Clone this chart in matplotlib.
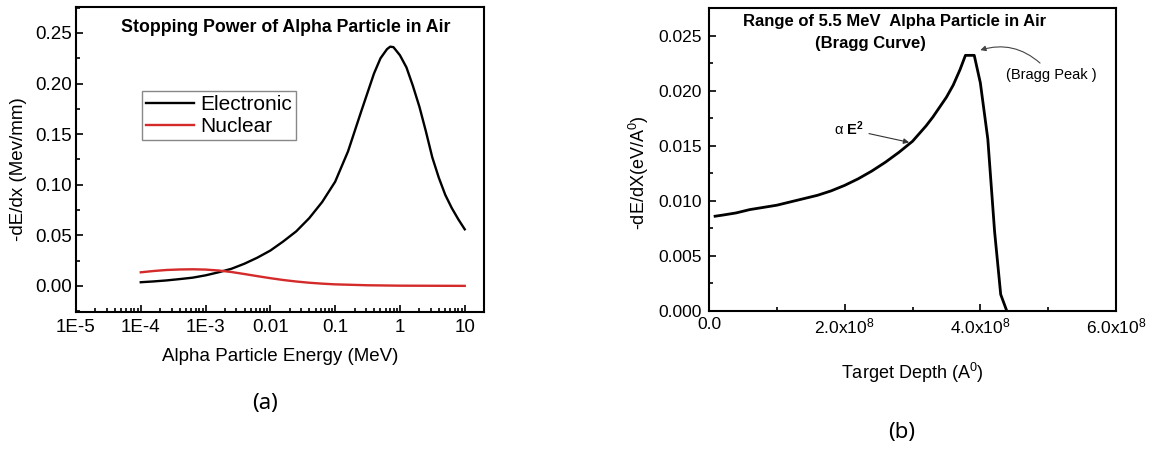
import matplotlib
matplotlib.use("Agg")
import matplotlib.pyplot as plt
from matplotlib.ticker import MultipleLocator, LogLocator, NullFormatter

plt.rcParams['font.family'] = 'Liberation Sans'
plt.rcParams['mathtext.fontset'] = 'custom'
plt.rcParams['mathtext.rm'] = 'Liberation Sans'
plt.rcParams['mathtext.it'] = 'Liberation Sans:italic'
plt.rcParams['mathtext.bf'] = 'Liberation Sans:bold'

# (a) stopping power vs energy (MeV)
energie_el = [1e-4, 1.58e-4, 2.51e-4, 3.98e-4, 6.31e-4, 1e-3, 1.58e-3, 2.51e-3,
              3.98e-3, 6.31e-3, 0.01, 0.0158, 0.0251, 0.0398, 0.0631, 0.1, 0.158,
              0.251, 0.398, 0.501, 0.631, 0.708, 0.794, 1.0, 1.26, 1.58, 2.0, 2.51,
              3.16, 3.98, 5.01, 6.31, 7.94, 10]
dedx_el = [0.0037, 0.0045, 0.0055, 0.0068, 0.0082, 0.0105, 0.0135, 0.017, 0.022,
           0.028, 0.035, 0.044, 0.054, 0.067, 0.083, 0.103, 0.133, 0.172, 0.210,
           0.225, 0.234, 0.2365, 0.236, 0.228, 0.216, 0.198, 0.177, 0.153, 0.127,
           0.107, 0.090, 0.077, 0.066, 0.056]

energie_nu = [1e-4, 1.58e-4, 2.51e-4, 3.98e-4, 6.31e-4, 1e-3, 1.58e-3, 2.51e-3,
              3.98e-3, 6.31e-3, 0.01, 0.0158, 0.0251, 0.0398, 0.0631, 0.1, 0.316,
              1, 3.16, 10]
dedx_nu = [0.0135, 0.0148, 0.0158, 0.0163, 0.0165, 0.0162, 0.0153, 0.0138, 0.0118,
           0.0097, 0.0077, 0.0059, 0.0044, 0.0032, 0.0023, 0.0016, 0.0007, 0.0003,
           0.0002, 0.0001]

xticks_a = [1e-5, 1e-4, 1e-3, 0.01, 0.1, 1, 10]
xlabels_a = ["1E-5", "1E-4", "1E-3", "0.01", "0.1", "1", "10"]

# (b) courbe de Bragg, profondeur en A
profondeur = [0.09e8, 0.2e8, 0.4e8, 0.6e8, 0.8e8, 1.0e8, 1.2e8, 1.4e8, 1.6e8, 1.8e8,
              2.0e8, 2.2e8, 2.4e8, 2.6e8, 2.8e8, 3.0e8, 3.1e8, 3.2e8, 3.3e8, 3.4e8,
              3.5e8, 3.6e8, 3.7e8, 3.78e8, 3.91e8, 4.0e8, 4.11e8, 4.21e8, 4.30e8,
              4.39e8]
dedx_b = [0.0086, 0.0087, 0.0089, 0.0092, 0.0094, 0.0096, 0.0099, 0.0102, 0.0105,
          0.0109, 0.0114, 0.0120, 0.0127, 0.0135, 0.0144, 0.0154, 0.0161, 0.0168,
          0.0176, 0.0185, 0.0194, 0.0205, 0.0219, 0.0232, 0.0232, 0.0207, 0.0156,
          0.0072, 0.0015, 0.0]

xticks_b = [0, 2e8, 4e8, 6e8]
xlabels_b = ["0.0", r"2.0x10$^8$", r"4.0x10$^8$", r"6.0x10$^8$"]

fig = plt.figure(figsize=(11.6, 4.53), dpi=100)

#graphique (a)
ax1 = fig.add_axes([0.0655, 0.3113, 0.3517, 0.6733])
ax1.plot(energie_el, dedx_el, color='black', lw=1.7, label="Electronic")
ax1.plot(energie_nu, dedx_nu, color='#d42a2a', lw=1.7, label="Nuclear")
ax1.set_xscale('log')
ax1.set_xlim(1e-5, 19.8)
ax1.set_ylim(-0.0257, 0.2757)
ax1.set_xticks(xticks_a)
ax1.set_xticklabels(xlabels_a)
ax1.xaxis.set_minor_locator(LogLocator(base=10, subs=range(2, 10), numticks=20))
ax1.xaxis.set_minor_formatter(NullFormatter())
ax1.yaxis.set_major_locator(MultipleLocator(0.05))
ax1.yaxis.set_minor_locator(MultipleLocator(0.025))
ax1.yaxis.set_major_formatter(plt.FormatStrFormatter('%.2f'))
ax1.tick_params(which='both', direction='in', labelsize=13.5, width=1.2)
ax1.tick_params(which='major', length=5)
ax1.tick_params(which='minor', length=3)
ax1.tick_params(axis='x', pad=5)
ax1.tick_params(axis='y', pad=3)
for s in ax1.spines.values():
    s.set_linewidth(1.5)
ax1.set_xlabel("Alpha Particle Energy (MeV)", fontsize=13.5)
ax1.xaxis.set_label_coords(0.5, -0.118)
ax1.set_ylabel("-dE/dx (Mev/mm)", fontsize=13.5)
ax1.yaxis.set_label_coords(-0.12, 0.47)
ax1.text(0.515, 0.934, "Stopping Power of Alpha Particle in Air", transform=ax1.transAxes,
         ha='center', va='center', fontsize=12.8, fontweight='bold')
leg = ax1.legend(loc='upper left', bbox_to_anchor=(0.162, 0.725), borderaxespad=0,
                 fontsize=15, fancybox=False, handlelength=2.3, handletextpad=0.3,
                 borderpad=0.2, labelspacing=0.15, framealpha=1)
leg.get_frame().set_edgecolor('#888888')
leg.get_frame().set_linewidth(1.0)

#graphique (b)
ax2 = fig.add_axes([0.6112, 0.3135, 0.3509, 0.6689])
ax2.plot(profondeur, dedx_b, color='black', lw=2.0)
ax2.set_xlim(0, 6e8)
ax2.set_ylim(0, 0.0275)
ax2.set_xticks(xticks_b)
ax2.set_xticklabels(xlabels_b)
ax2.xaxis.set_minor_locator(MultipleLocator(1e8))
ax2.yaxis.set_major_locator(MultipleLocator(0.005))
ax2.yaxis.set_minor_locator(MultipleLocator(0.0025))
ax2.yaxis.set_major_formatter(plt.FormatStrFormatter('%.3f'))
ax2.tick_params(which='both', direction='in', labelsize=12.5, width=1.2)
ax2.tick_params(which='major', length=5)
ax2.tick_params(which='minor', length=3)
ax2.tick_params(axis='x', pad=4)
ax2.tick_params(axis='y', pad=5)
for s in ax2.spines.values():
    s.set_linewidth(1.5)
ax2.set_xlabel(r"Target Depth (A$^0$)", fontsize=13)
ax2.xaxis.set_label_coords(0.5, -0.165)
ax2.set_ylabel(r"-dE/dX(eV/A$^0$)", fontsize=13)
ax2.yaxis.set_label_coords(-0.142, 0.458)
ax2.text(0.455, 0.954, "Range of 5.5 MeV  Alpha Particle in Air", transform=ax2.transAxes,
         ha='center', va='center', fontsize=12, fontweight='bold')
ax2.text(0.397, 0.884, "(Bragg Curve)", transform=ax2.transAxes,
         ha='center', va='center', fontsize=12, fontweight='bold')
ax2.annotate(r"α $\mathbf{E^2}$", xy=(2.99e8, 0.01525), xytext=(1.84e8, 0.0165),
             ha='left', va='center', fontsize=10.5,
             arrowprops=dict(arrowstyle='-|>', color='#333333', lw=0.8, mutation_scale=8))
ax2.text(4.38e8, 0.02146, "(Bragg Peak )", ha='left', va='center', fontsize=10.5)
ax2.annotate("", xy=(3.96e8, 0.0236), xytext=(4.91e8, 0.02233),
             arrowprops=dict(arrowstyle='-|>', color='#444444', lw=0.8, mutation_scale=8,
                             connectionstyle='arc3,rad=0.3'))

fig.text(0.2284, 0.110, "(a)", ha='center', va='center', fontsize=16, family='Noto Sans')
fig.text(0.7776, 0.046, "(b)", ha='center', va='center', fontsize=16, family='Noto Sans')

plt.savefig("out.png", dpi=100)
